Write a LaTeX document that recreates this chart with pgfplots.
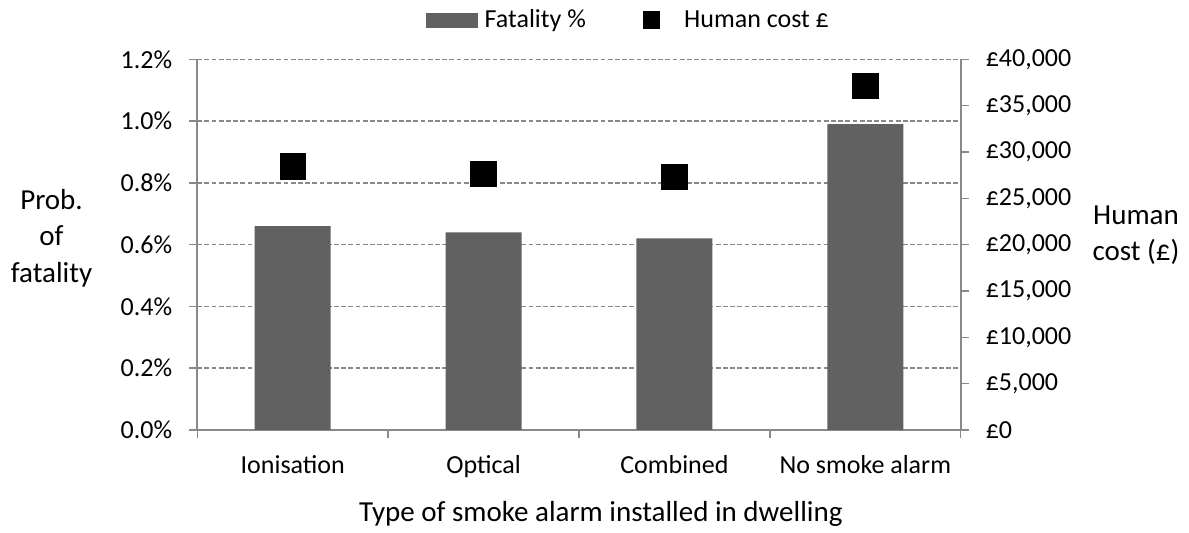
\documentclass[border=0pt]{standalone}
\usepackage{fontspec}
\setmainfont{Carlito}
\usepackage{pgfplots}
\pgfplotsset{compat=1.18}
\definecolor{barc}{HTML}{616161}
\definecolor{axc}{HTML}{898989}
\begin{document}
\begin{tikzpicture}[font=\fontsize{13}{15.6}\selectfont]
\path[use as bounding box] (-98.65pt,-51.5pt) rectangle (495.85pt,215pt);
\pgfplotsset{
  base/.style={
    at={(0pt,0pt)}, anchor=south west, scale only axis,
    width=381.7pt, height=185.35pt,
    xmin=-0.5, xmax=3.5,
    tick align=outside,
    major tick length=4pt,
    tick style={axc, line width=0.75pt},
    axis line style={axc, line width=1pt},
    ticklabel style={font=\fontsize{13}{15.6}\selectfont},
    scaled y ticks=false,
  }
}
\begin{axis}[base,
  ymin=0, ymax=1.2,
  axis x line*=bottom, axis y line*=left,
  xtick={-0.5,0.5,1.5,2.5,3.5},
  xticklabels={},
  extra x ticks={0,1,2,3},
  extra x tick labels={Ionisation,Optical,Combined,No smoke alarm},
  extra x tick style={major tick length=0pt, grid=none, xticklabel style={yshift=-9pt}},
  ytick={0,0.2,0.4,0.6,0.8,1.0,1.2},
  yticklabels={0.0\%,0.2\%,0.4\%,0.6\%,0.8\%,1.0\%,1.2\%},
  yticklabel style={xshift=-5pt},
  ymajorgrids,
  major grid style={axc, line width=0.75pt, dash pattern=on 2.4pt off 1.2pt},
]
\addplot[ybar, bar width=38pt, fill=barc, draw=none] coordinates {(0,0.66) (1,0.64) (2,0.62) (3,0.99)};
\end{axis}
\begin{axis}[base,
  ymin=0, ymax=40000,
  axis x line=none, axis y line*=right,
  ytick={0,5000,10000,15000,20000,25000,30000,35000,40000},
  yticklabels={£0,{£5,000},{£10,000},{£15,000},{£20,000},{£25,000},{£30,000},{£35,000},{£40,000}},
  yticklabel style={xshift=5pt},
  legend style={at={(0.2996,1.1055)}, anchor=west, draw=none, fill=none,
    inner sep=0pt, outer sep=0pt, legend columns=2,
    nodes={inner sep=0pt, font=\fontsize{13}{15.6}\selectfont},
    /tikz/column 1/.style={column sep=3.6pt},
    /tikz/column 2/.style={column sep=28.35pt},
    /tikz/column 3/.style={column sep=12pt}},
]
\addlegendimage{legend image code/.code={\fill[barc] (0pt,-3.4pt) rectangle (25.35pt,3.4pt);}}
\addlegendentry{Fatality \%}
\addplot[only marks, mark=square*, mark size=6.35pt, black,
  legend image code/.code={\fill[black] (0pt,-4.2pt) rectangle (8.4pt,4.2pt);}]
  coordinates {(0,28430) (1,27660) (2,27330) (3,37120)};
\addlegendentry{Human cost £}
\end{axis}
\node[align=center, font=\fontsize{14.5}{18.25}\selectfont] at (-72.9pt,96pt) {Prob.\\of\\fatality};
\node[align=center, font=\fontsize{14.5}{18}\selectfont] at (469.35pt,97.5pt) {Human\\cost (£)};
\node[anchor=base, font=\fontsize{14.5}{17}\selectfont] at (201.8pt,-45.85pt) {Type of smoke alarm installed in dwelling};
\end{tikzpicture}
\end{document}
